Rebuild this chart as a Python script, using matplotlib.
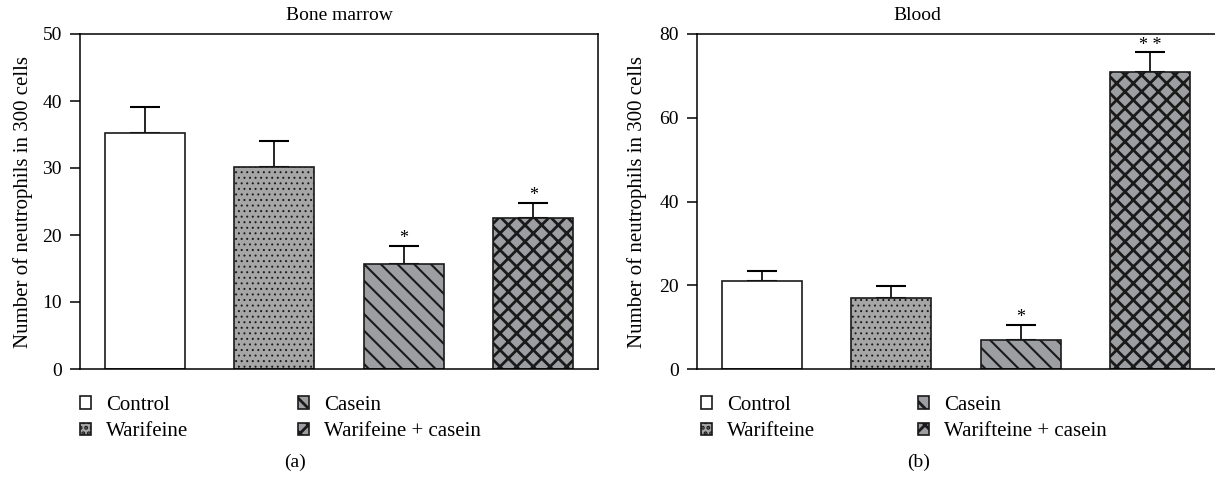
import matplotlib
matplotlib.use("Agg")
import matplotlib.pyplot as plt
import numpy as np

plt.rcParams['font.family'] = ['Liberation Serif', 'DejaVu Serif']

# ---- data ----
groups_a = ["Control", "Warifeine", "Casein", "Warifeine + casein"]
groups_b = ["Control", "Warifteine", "Casein", "Warifteine + casein"]
bm_means = [35.2, 30.2, 15.7, 22.6]
bm_err = [3.9, 3.9, 2.7, 2.2]
bm_sig = ["", "", "*", "*"]
bl_means = [20.9, 17.0, 6.9, 70.9]
bl_err = [2.6, 2.8, 3.6, 4.7]
bl_sig = ["", "", "*", "* *"]
yticks_a = [0, 10, 20, 30, 40, 50]
yticks_b = [0, 20, 40, 60, 80]

# ---- style ----
fills = ["white", "#a6a6a6", "#9d9ea2", "#9d9ea2"]
hatches = [None, "...", "\\\\", "xx"]
hatch_lw = [1.0, 0.7, 1.5, 2.0]
edge = "#1a1a1a"

W, H = 1215, 484
fig = plt.figure(figsize=(W / 100, H / 100), dpi=100)


def px_axes(x0, x1, ytop, ybot):
    return fig.add_axes([x0 / W, (H - ybot) / H, (x1 - x0) / W, (ybot - ytop) / H])


def draw_panel(ax, means, errs, sig, yticks, xmax, labelx):
    x = np.arange(len(means))
    bars = []
    for i in range(len(means)):
        plt.rcParams['hatch.linewidth'] = hatch_lw[i]
        b = ax.bar(x[i], means[i], width=0.62, color=fills[i], edgecolor=edge,
                   linewidth=1.2, hatch=hatches[i], zorder=2)
        p = b.patches[0]
        if hasattr(p, "set_hatch_linewidth"):
            p.set_hatch_linewidth(hatch_lw[i])
        bars.append(p)
    ax.errorbar(x, means, yerr=[np.zeros(len(errs)), errs], fmt="none",
                ecolor="black", elinewidth=1.2, capsize=11, capthick=1.5, zorder=1)
    for i in range(len(means)):
        if sig[i]:
            ax.annotate(sig[i], (x[i], means[i] + errs[i]), xytext=(0, -1),
                        textcoords="offset points", ha="center", va="bottom",
                        fontsize=13)
    ax.set_xlim(-0.5, xmax)
    ax.set_ylim(0, yticks[-1])
    ax.set_yticks(yticks)
    ax.set_xticks([])
    ax.tick_params(axis="y", direction="out", length=7, width=1.1, labelsize=14, pad=6)
    for s in ax.spines.values():
        s.set_linewidth(1.1)
    ax.set_ylabel("Number of neutrophils in 300 cells", fontsize=15)
    ax.yaxis.set_label_coords(labelx, 0.5)
    return bars


ax1 = px_axes(80, 598, 34, 369)
bars1 = draw_panel(ax1, bm_means, bm_err, bm_sig, yticks_a, 3.5, -0.091)

ax2 = px_axes(697, 1215, 34, 369)
bars2 = draw_panel(ax2, bl_means, bl_err, bl_sig, yticks_b, 3.5, -0.097)
ax2.spines["right"].set_visible(False)

fig.text(339 / W, 1 - 15 / H, "Bone marrow", ha="center", va="center", fontsize=14)
fig.text(917 / W, 1 - 15 / H, "Blood", ha="center", va="center", fontsize=14)


def add_legends(bars, names, xcol1, xcol2, ytop):
    for (idx, xc) in (([0, 1], xcol1), ([2, 3], xcol2)):
        fig.legend([bars[i] for i in idx], [names[i] for i in idx],
                   loc="upper left", bbox_to_anchor=(xc / W, 1 - ytop / H),
                   frameon=False, fontsize=15, handlelength=0.55,
                   handleheight=0.55, handletextpad=0.7, labelspacing=0.36,
                   borderaxespad=0, borderpad=0)


add_legends(bars1, groups_a, 80, 298, 396)
add_legends(bars2, groups_b, 701, 918, 396)

fig.text(295 / W, 1 - 462 / H, "(a)", ha="center", va="center", fontsize=14)
fig.text(919 / W, 1 - 462 / H, "(b)", ha="center", va="center", fontsize=14)

fig.savefig("out.png", dpi=100)
